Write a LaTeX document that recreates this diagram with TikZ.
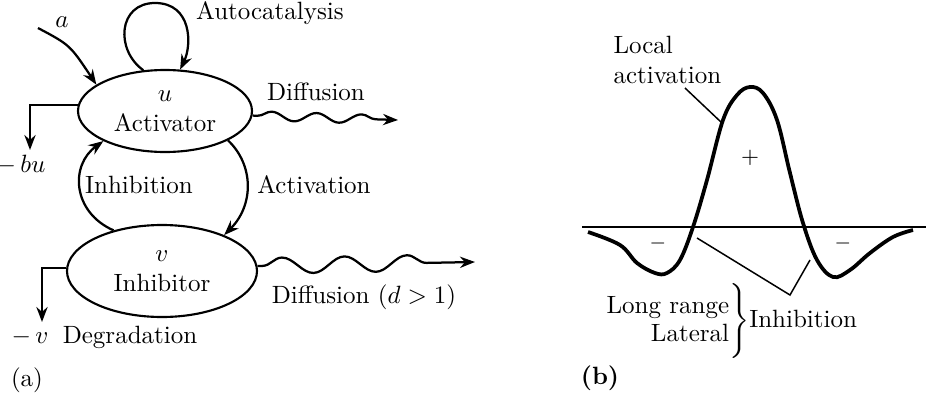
\documentclass[tikz,border=0pt]{standalone}
\usetikzlibrary{shapes.geometric,arrows.meta,decorations.pathmorphing}
\begin{document}
\begin{tikzpicture}[x=0.4pt,y=-0.4pt,
  oval/.style={draw, ellipse, line width=0.85pt, inner sep=0pt, align=center},
  arr/.style={line width=0.9pt, -{Stealth[length=6pt,width=4.5pt]}},
  wave/.style={arr, decorate},
  lead/.style={line width=0.6pt},
  lbl/.style={inner sep=0pt}]
\useasboundingbox (0,0) rectangle (928,414);
% ---------------- panel (a)
\node[oval, minimum width=69.6pt, minimum height=32.8pt] (act) at (165,111) {$u$\\Activator};
\node[oval, minimum width=76pt, minimum height=36.8pt] (inh) at (162,271) {$v$\\Inhibitor};
% autocatalysis loop
\draw[arr] (act.118) .. controls (115,50) and (118,3) .. (155,3)
                     .. controls (192,3) and (192,45) .. (act.70);
\node[lbl] (autolbl) at (270,13) {Autocatalysis};
% input a
\coordinate (a0) at (38,28);
\node[lbl] (alab) at (62,22) {$a$};
\draw[arr] (a0) .. controls (70,45) .. (act.159);
% decay -bu
\coordinate (bu) at (30,150);
\draw[arr] (act.176) -| (bu);
\node[lbl] (bulab) at (21,165) {$-\,bu$};
% diffusion of u
\coordinate (du) at (398,120);
\draw[wave, decoration={snake, amplitude=1.8pt, segment length=18pt, pre length=2pt, post length=7pt}] (act.-3) -- (du);
\node[lbl] (dulab) at (316,92) {Diffusion};
% inhibition
\draw[arr] (inh.140) .. controls (72,212) and (70,165) .. (act.206);
\node[lbl] (inhlab) at (139,185) {Inhibition};
% activation
\draw[arr] (act.-25) .. controls (254,165) and (254,205) .. (inh.30);
\node[lbl] (actlab) at (314,185) {Activation};
% degradation
\coordinate (dg) at (42,322);
\draw[arr] (inh.178) -| (dg);
\node[lbl] (vlab) at (30,337) {$-\,v$};
\node[lbl] (deglab) at (130,337) {Degradation};
% diffusion of v
\coordinate (dv) at (475,262);
\draw[wave, decoration={snake, amplitude=3.2pt, segment length=25pt, pre length=2pt, post length=9pt}] (inh.3) -- (dv);
\node[lbl] (dvlab) at (364,297) {Diffusion ($d>1$)};
\node[lbl] (alabel) at (27,380) {(a)};
% ---------------- panel (b)
\coordinate (ax0) at (582,227);
\coordinate (ax1) at (926,227);
\draw[line width=0.8pt] (ax0) -- (ax1);
\draw[line width=1.5pt] plot[smooth, tension=0.6] coordinates {
 (588,232) (620,245) (637,263) (655,273) (667,273) (680,260) (693,227)
 (707,180) (723,120) (737,95) (750,87) (763,93) (777,120) (790,173)
 (803,223) (817,260) (833,277) (850,270) (870,253) (893,237) (913,230)};
\node[lbl] (plus) at (750,158) {\small$+$};
\node[lbl] (m1) at (658,243) {\footnotesize$-$};
\node[lbl] (m2) at (843,243) {\footnotesize$-$};
\node[lbl, align=left, anchor=west] (loc) at (613,60) {Local\\activation};
\coordinate (l0) at (685,88);
\coordinate (l1) at (722,123);
\draw[lead] (l0) -- (l1);
\coordinate (i0) at (697,238);
\coordinate (i1) at (790,295);
\coordinate (i2) at (810,260);
\draw[lead] (i0) -- (i1) -- (i2);
\node[lbl, anchor=west] (lr) at (603,321)
  {$\left.\begin{tabular}{@{}r@{}}Long range\\[-0.8pt]Lateral\end{tabular}\vphantom{\rule[-12.5pt]{0pt}{30pt}}\right\}$Inhibition};
\node[lbl] (blabel) at (600,378) {\textbf{(b)}};
\end{tikzpicture}
\end{document}
